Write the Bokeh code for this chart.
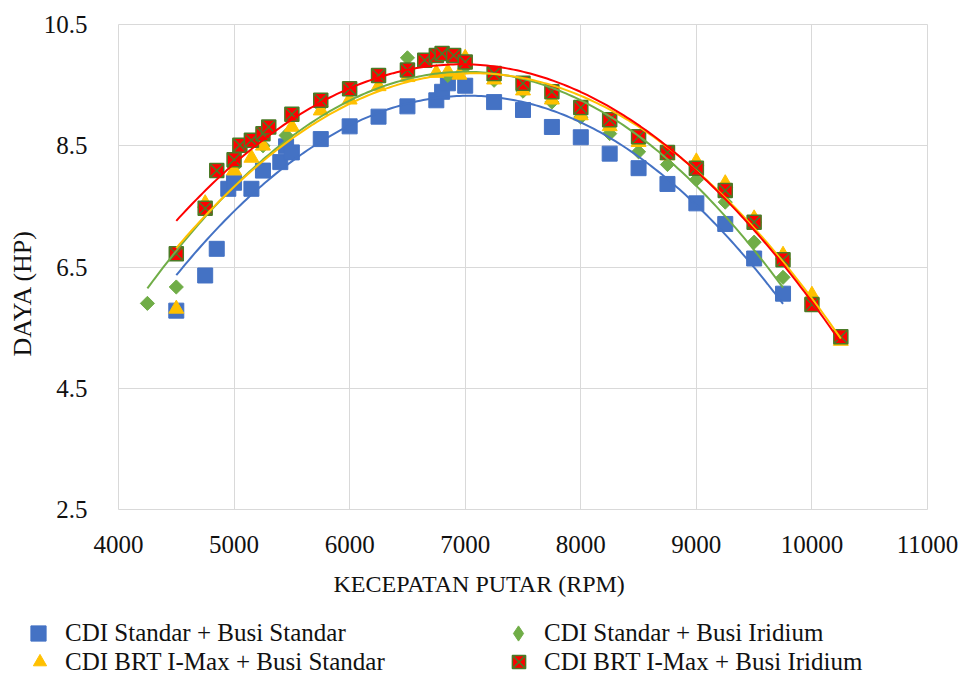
import numpy as np
from bokeh.plotting import figure
from bokeh.models import Range1d, Legend, LegendItem, FixedTicker, Title
from bokeh.layouts import column
from bokeh.embed import file_html
from bokeh.resources import INLINE

FONT = "Liberation Serif"

# ---------------- data ----------------
x_ticks = [4000, 5000, 6000, 7000, 8000, 9000, 10000, 11000]
x_tick_labels = ["4000", "5000", "6000", "7000", "8000", "9000", "10000", "11000"]
y_ticks = [2.5, 4.5, 6.5, 8.5, 10.5]
y_tick_labels = ["2.5", "4.5", "6.5", "8.5", "10.5"]

x_title = "KECEPATAN PUTAR (RPM)"
y_title = "DAYA (HP)"

series_names = [
    "CDI Standar + Busi Standar",
    "CDI Standar + Busi Iridium",
    "CDI BRT I-Max + Busi Standar",
    "CDI BRT I-Max + Busi Iridium",
]

blue_rpm = [4500, 4750, 4850, 4950, 5000, 5150, 5250, 5400, 5450, 5500, 5750, 6000,
            6250, 6500, 6750, 6800, 6850, 7000, 7250, 7500, 7750, 8000, 8250, 8500,
            8750, 9000, 9250, 9500, 9750]
blue_hp = [5.78, 6.36, 6.80, 7.79, 7.89, 7.79, 8.09, 8.23, 8.49, 8.39, 8.61, 8.82,
           8.98, 9.15, 9.25, 9.39, 9.53, 9.49, 9.22, 9.09, 8.81, 8.64, 8.37, 8.13,
           7.87, 7.55, 7.21, 6.64, 6.06]

green_rpm = [4250, 4500, 4750, 5000, 5250, 5450, 5750, 6000, 6250, 6500, 6850, 7000,
             7250, 7500, 7750, 8000, 8250, 8500, 8750, 9000, 9250, 9500, 9750]
green_hp = [5.90, 6.17, 7.50, 8.15, 8.50, 8.67, 9.15, 9.40, 9.60, 9.95, 9.66, 9.80,
            9.58, 9.40, 9.22, 8.97, 8.70, 8.40, 8.19, 7.94, 7.57, 6.91, 6.33]

yellow_rpm = [4500, 4750, 5000, 5150, 5250, 5500, 5750, 6000, 6250, 6500, 6750, 6850,
              6950, 7000, 7250, 7500, 7750, 8000, 8250, 8500, 8750, 9000, 9250, 9500,
              9750, 10000, 10250]
yellow_hp = [5.81, 7.55, 8.09, 8.30, 8.50, 8.81, 9.08, 9.26, 9.48, 9.63, 9.70, 9.72,
             9.67, 9.95, 9.59, 9.41, 9.26, 9.00, 8.82, 8.56, 8.34, 8.24, 7.88, 7.30,
             6.70, 6.04, 5.28]

red_rpm = [4500, 4750, 4850, 5000, 5050, 5150, 5250, 5300, 5500, 5750, 6000, 6250,
           6500, 6650, 6750, 6800, 6900, 7000, 7250, 7500, 7750, 8000, 8250, 8500,
           8750, 9000, 9250, 9500, 9750, 10000, 10250]
red_hp = [6.72, 7.47, 8.09, 8.27, 8.51, 8.59, 8.70, 8.81, 9.02, 9.25, 9.44, 9.66,
          9.75, 9.91, 9.99, 10.02, 9.99, 9.88, 9.69, 9.53, 9.39, 9.13, 8.93, 8.65,
          8.39, 8.13, 7.76, 7.24, 6.62, 5.88, 5.35]

BLUE, GREEN, YELLOW, RED, XGREEN = "#4472C4", "#70AD47", "#FFC000", "#FF0000", "#4B7A26"
TXT = "#111111"

MAIN_H = 615

# ---------------- main chart ----------------
p = figure(width=967, height=MAIN_H, title=None,
           x_range=Range1d(4000, 11000), y_range=Range1d(2.5, 10.5),
           output_backend="svg", toolbar_location=None,
           min_border_left=118, min_border_right=40, min_border_top=24,
           min_border_bottom=MAIN_H - 509)

p.xaxis.ticker = FixedTicker(ticks=x_ticks)
p.yaxis.ticker = FixedTicker(ticks=y_ticks)
p.xaxis.major_label_overrides = {t: l for t, l in zip(x_ticks, x_tick_labels)}
p.yaxis.major_label_overrides = {t: l for t, l in zip(y_ticks, y_tick_labels)}

for ax in (p.xaxis, p.yaxis):
    ax.axis_line_color = None
    ax.major_tick_line_color = None
    ax.minor_tick_line_color = None
    ax.major_label_text_font = FONT
    ax.major_label_text_font_size = "25px"
    ax.major_label_text_color = TXT

p.xaxis.major_label_standoff = 20
p.yaxis.major_label_standoff = 25

# axis titles (placed like the spreadsheet: centred on the chart area, not the frame)
p.add_layout(Title(text=x_title, align="left", offset=215, standoff=27,
                   text_font=FONT, text_font_size="24px", text_font_style="normal",
                   text_color=TXT), "below")
p.add_layout(Title(text=y_title, align="left", offset=153, standoff=8,
                   text_font=FONT, text_font_size="26px", text_font_style="normal",
                   text_color=TXT), "left")

p.grid.grid_line_color = "#d9d9d9"
p.grid.grid_line_width = 1
p.outline_line_color = "#d9d9d9"

p.scatter(blue_rpm, blue_hp, marker="square", size=15, fill_color=BLUE, line_color=BLUE)
p.scatter(green_rpm, green_hp, marker="square", angle=np.pi / 4, size=10,
          fill_color=GREEN, line_color=GREEN)
p.scatter(yellow_rpm, yellow_hp, marker="triangle", size=15, fill_color=YELLOW, line_color=YELLOW)
p.scatter(red_rpm, red_hp, marker="square_x", size=14, fill_color=RED,
          line_color=XGREEN, line_width=1.5)

# polynomial (order 2) trendlines, as in the original spreadsheet chart
for xs, ys, c in ((blue_rpm, blue_hp, BLUE), (green_rpm, green_hp, GREEN),
                  (yellow_rpm, yellow_hp, YELLOW), (red_rpm, red_hp, RED)):
    coef = np.polyfit(xs, ys, 2)
    tx = np.linspace(min(xs), max(xs), 200)
    p.line(tx, np.polyval(coef, tx), line_color=c, line_width=2)

# ---------------- legend strip ----------------
lf = figure(width=967, height=676 - MAIN_H, title=None, x_range=Range1d(0, 1), y_range=Range1d(0, 1),
            x_axis_type=None, y_axis_type=None, output_backend="svg",
            toolbar_location=None, min_border=0,
            min_border_left=0, min_border_right=0, min_border_top=0, min_border_bottom=0)
lf.outline_line_color = None
lf.grid.visible = False

# legend-only renderers: one point each, outside the visible range
r_b = lf.scatter(x=[-5], y=[-5], marker="square", fill_color=BLUE, line_color=BLUE)
r_g = lf.scatter(x=[-5], y=[-5], marker="diamond", fill_color=GREEN, line_color=GREEN)
r_y = lf.scatter(x=[-5], y=[-5], marker="triangle", fill_color=YELLOW, line_color=YELLOW)
r_r = lf.scatter(x=[-5], y=[-5], marker="square_x", fill_color=RED, line_color=XGREEN, line_width=1.5)


def add_leg(rend, label, x, y, gw, gh, standoff):
    leg = Legend(items=[LegendItem(label=label, renderers=[rend])], location=(x, y),
                 padding=0, margin=0, spacing=0, glyph_width=gw, glyph_height=gh,
                 label_height=gh, label_standoff=standoff, label_text_font=FONT,
                 label_text_font_size="25px", label_text_color=TXT,
                 border_line_color=None, background_fill_alpha=0)
    lf.add_layout(leg)


add_leg(r_b, series_names[0], 19, 24, 38, 38, 8)
add_leg(r_y, series_names[2], 23, -2, 33, 33, 9)
add_leg(r_g, series_names[1], 499, 24, 38, 38, 7)
add_leg(r_r, series_names[3], 502, -2, 33, 33, 9)

layout = column(p, column(lf), spacing=0)
open("out.html", "w").write(file_html(layout, INLINE))
